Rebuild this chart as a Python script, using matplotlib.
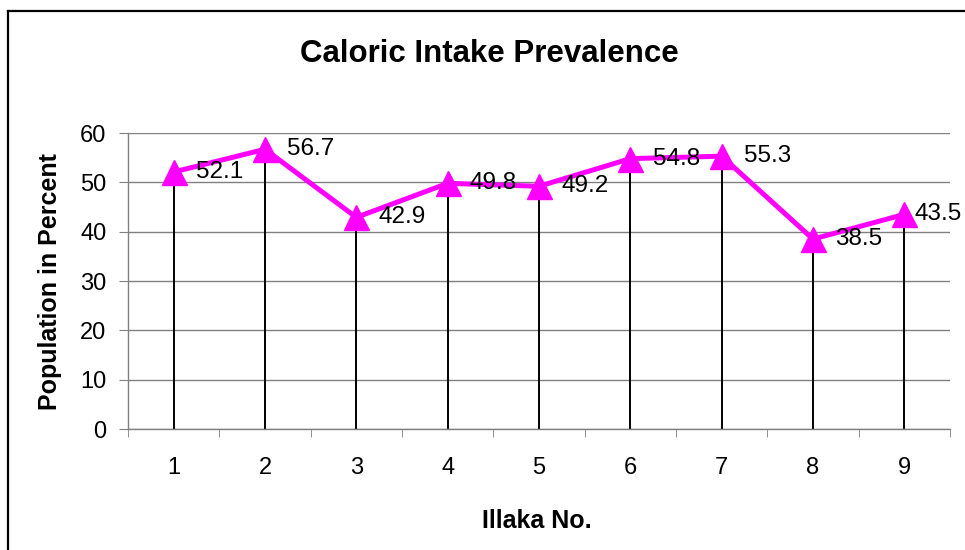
import matplotlib
matplotlib.use("Agg")
import matplotlib.pyplot as plt
from matplotlib.lines import Line2D

plt.rcParams['font.family'] = ['Liberation Sans', 'DejaVu Sans']

categories = ["1", "2", "3", "4", "5", "6", "7", "8", "9"]
values = [52.1, 56.7, 42.9, 49.8, 49.2, 54.8, 55.3, 38.5, 43.5]
yticks = [0, 10, 20, 30, 40, 50, 60]

fig = plt.figure(figsize=(9.65, 5.5), dpi=100)
ax = fig.add_axes([128/965, 1-429/550, (950-128)/965, (429-133)/550])

x = list(range(1, len(categories)+1))
ax.vlines(x, 0, values, colors='black', linewidth=1.4, zorder=2)
ax.plot(x, values, color='#FF00FF', linewidth=3.6, marker='^', markersize=18,
        zorder=3, clip_on=False)
for i, (xi, v) in enumerate(zip(x, values)):
    dx = 7 if i == len(values) - 1 else 16
    ax.annotate(f"{v}", (xi, v), xytext=(dx, 0), textcoords='offset points',
                ha='left', va='center', fontsize=17.5, zorder=4,
                annotation_clip=False)

ax.set_xlim(0.5, len(categories)+0.5)
ax.set_ylim(0, 60)
ax.set_yticks(yticks)
ax.set_yticklabels([str(t) for t in yticks], fontsize=17)
ax.set_xticks(x)
ax.set_xticklabels(categories, fontsize=17)
ax.set_xticks([i+0.5 for i in range(len(categories)+1)], minor=True)
ax.tick_params(axis='x', which='major', length=0, pad=20)
ax.tick_params(axis='x', which='minor', length=6, color='#808080', direction='out')
ax.tick_params(axis='y', length=6.5, color='#808080', direction='out', pad=9)
ax.grid(axis='y', color='#808080', linewidth=1)
ax.set_axisbelow(True)
for s in ['top', 'right']:
    ax.spines[s].set_visible(False)
for s in ['left', 'bottom']:
    ax.spines[s].set_color('#808080')
    ax.spines[s].set_linewidth(1)

fig.text(489/965, 1-62/550, "Caloric Intake Prevalence", ha='center', va='baseline',
         fontsize=22.5, fontweight='bold')
fig.text(50/965, 1-282/550, "Population in Percent", ha='center', va='center',
         rotation=90, fontsize=18, fontweight='bold')
fig.text(537/965, 1-521/550, "Illaka No.", ha='center', va='center',
         fontsize=18, fontweight='bold')

# outer border (top and left visible)
fig.add_artist(Line2D([7.5/965, 7.5/965], [0, 1-10.5/550], color='black', linewidth=1.6,
                      transform=fig.transFigure))
fig.add_artist(Line2D([7.5/965, 1], [1-10.5/550, 1-10.5/550], color='black', linewidth=1.6,
                      transform=fig.transFigure))

fig.savefig("out.png", dpi=100)
